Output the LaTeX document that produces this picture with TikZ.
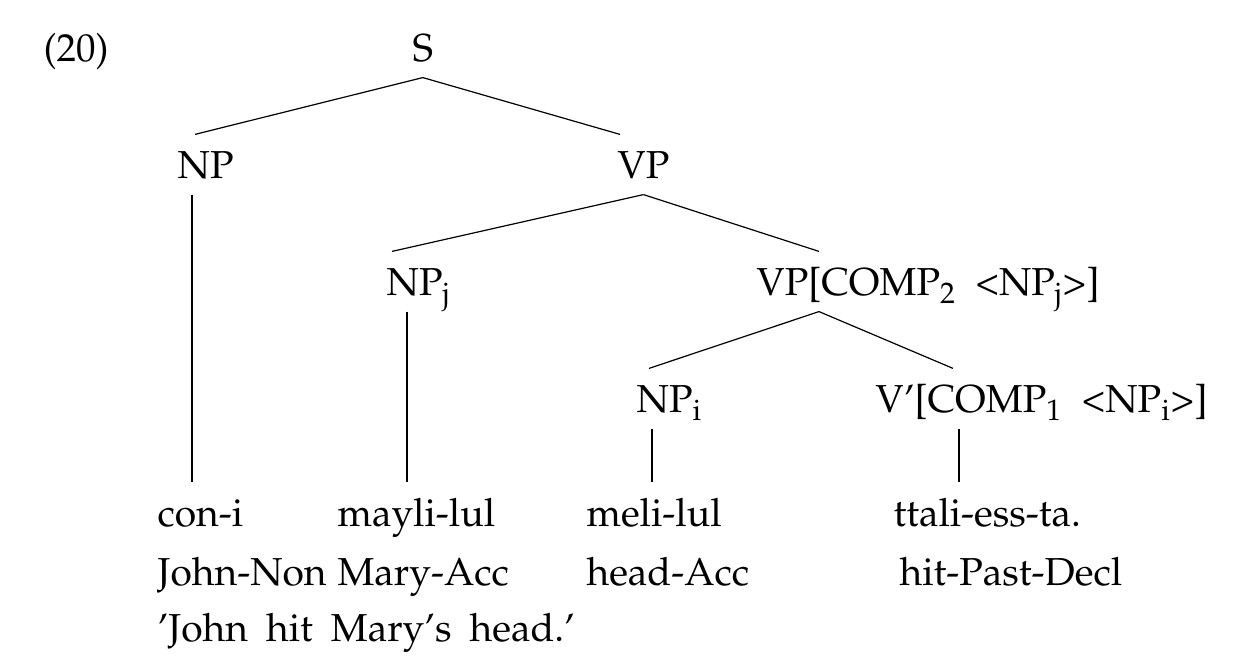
\documentclass[tikz,border=0pt]{standalone}
\usepackage[T1]{fontenc}
\usepackage{mathpazo}
\usetikzlibrary{calc,positioning}

\begin{document}
\begin{tikzpicture}[x=0.5pt,y=-0.5pt,font=\fontsize{19.5}{24}\selectfont,line width=0.6pt]
		\tikzset{cat/.style={anchor=base west,inner xsep=0pt,inner ysep=7.5pt,text height=14.5pt,text depth=0pt}}
		\useasboundingbox (0,0) rectangle (1259,667);

		\node [cat] (ex) at (43,62) {(20)};
		\node [cat] (S) at (412,62) {S};
		\node [cat] (NP) at (177,179) {NP};
		\node [cat] (VP) at (617,179) {VP};
		\node [cat] (NPj) at (386,296) {NP\textsubscript{j}};
		\node [cat] (VPc) at (756,296) {VP[COMP\textsubscript{2}~~<NP\textsubscript{j}>]};
		\node [cat] (NPi) at (636,413) {NP\textsubscript{i}};
		\node [cat] (Vc) at (875,413) {V'[COMP\textsubscript{1}~~<NP\textsubscript{i}>]};

		% words, glosses, translation
		\node [cat] (con) at (157,527) {con-i};
		\node [cat] (mayli) at (337,527) {mayli-lul};
		\node [cat] (meli) at (586,527) {meli-lul};
		\node [cat] (ttali) at (893,527) {ttali-ess-ta.};
		\node [cat] (john) at (157,586) {John-Non};
		\node [cat] (mary) at (337,586) {Mary-Acc};
		\node [cat] (head) at (586,586) {head-Acc};
		\node [cat] (hit) at (899,586) {hit-Past-Decl};
		\node [cat] (trans) at (157,642) {'John\hspace{9pt}hit\hspace{9pt}Mary's\hspace{9pt}head.'};

		\draw (S.south) -- ($(NP.north west)+(18,0)$);
		\draw (S.south) -- ($(VP.north west)+(3,0)$);
		\draw (VP.south) -- ($(NPj.north west)+(6,0)$);
		\draw (VP.south) -- ($(VPc.north west)+(63,0)$);
		\draw ($(VPc.south west)+(63,0)$) -- ($(NPi.north west)+(13,0)$);
		\draw ($(VPc.south west)+(63,0)$) -- ($(Vc.north west)+(78,0)$);
		\draw ($(NP.south west)+(15,0)$) -- ($(con.north west)+(35,0)$);
		\draw ($(NPj.south west)+(21,0)$) -- ($(mayli.north west)+(70,0)$);
		\draw ($(NPi.south west)+(16,0)$) -- ($(meli.north west)+(66,0)$);
		\draw ($(Vc.south west)+(84,0)$) -- ($(ttali.north west)+(66,0)$);
	\end{tikzpicture}
\end{document}
